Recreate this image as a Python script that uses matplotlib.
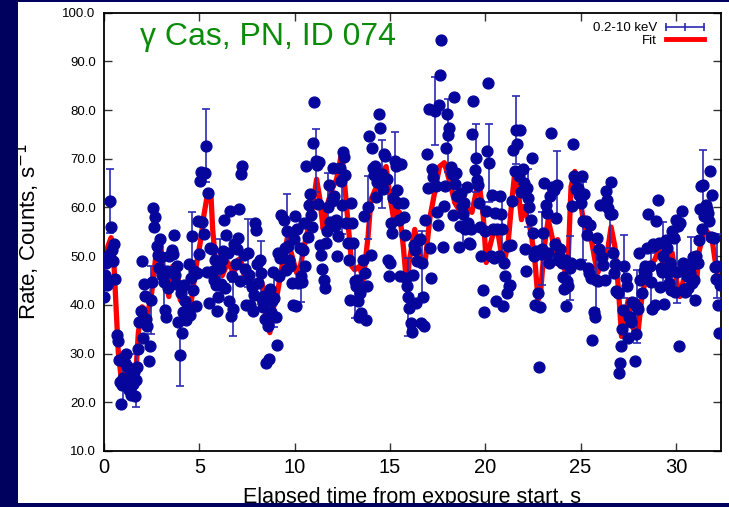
import numpy as np
import matplotlib.pyplot as plt
from matplotlib.lines import Line2D
from matplotlib.patches import Rectangle

plt.rcParams['font.family'] = ['Liberation Sans', 'DejaVu Sans']

# light curve, 0.06 s bins
t_bin = 0.06
rate = [
    41.7, 46.2, 48.5, 44.0, 50.3, 61.3, 56.0, 51.2, 49.0, 52.5, 45.3, 33.8, 32.5, 28.6, 24.2, 19.7, 23.6, 25.0, 28.0, 30.0,
    27.5, 24.0, 22.5, 25.5, 21.5, 23.8, 26.2, 21.2, 24.5, 27.3, 31.0, 36.5, 38.8, 49.0, 33.2, 44.2, 41.8, 37.0, 35.6, 28.4,
    31.5, 41.0, 44.7, 59.8, 55.9, 58.1, 52.0, 50.3, 47.6, 53.5, 49.8, 46.2, 44.6, 38.9, 37.6, 47.0, 43.5, 50.1, 46.8, 51.2,
    50.4, 54.4, 46.2, 44.2, 48.0, 36.4, 29.8, 42.5, 34.3, 38.6, 44.1, 40.7, 36.8, 39.2, 48.3, 37.9, 45.6, 54.1, 43.0, 46.9,
    39.7, 46.6, 57.2, 50.5, 65.4, 67.2, 57.0, 54.5, 67.1, 72.7, 46.7, 63.0, 40.4, 51.7, 51.4, 47.0, 45.1, 49.2, 44.0, 38.7,
    41.7, 47.6, 44.3, 49.3, 51.1, 57.5, 43.5, 54.3, 50.6, 40.7, 59.2, 37.7, 46.0, 39.2, 52.5, 48.3, 51.5, 53.7, 59.6, 44.8,
    66.8, 68.5, 50.2, 47.4, 40.0, 45.3, 50.7, 46.2, 40.0, 43.7, 38.8, 42.0, 56.8, 55.3, 48.4, 44.5, 49.3, 46.6, 41.2, 39.5,
    41.9, 37.0, 28.1, 35.6, 28.8, 43.3, 38.5, 40.7, 46.8, 41.4, 37.5, 31.8, 50.7, 45.9, 49.6, 58.5, 50.0, 57.5, 51.7, 47.2,
    55.2, 52.1, 49.3, 48.0, 44.4, 40.0, 53.5, 58.2, 39.7, 55.5, 44.5, 51.6, 46.0, 44.6, 51.2, 56.8, 48.0, 68.6, 53.9, 60.5,
    62.7, 58.5, 56.0, 73.3, 81.7, 69.6, 68.7, 60.8, 69.3, 52.2, 50.3, 47.3, 45.2, 43.5, 52.7, 55.1, 60.0, 64.7, 57.1, 61.4,
    68.2, 62.4, 56.2, 57.5, 50.0, 54.1, 68.2, 65.5, 60.5, 71.3, 70.3, 66.6, 56.9, 52.7, 49.3, 41.0, 61.0, 56.9, 52.8, 44.8,
    43.8, 45.2, 40.7, 37.5, 42.5, 38.3, 49.3, 58.2, 46.6, 36.8, 43.8, 60.0, 74.7, 50.3, 72.3, 68.2, 66.6, 68.6, 62.1, 65.3,
    79.1, 76.4, 66.5, 66.9, 63.7, 70.9, 70.6, 65.8, 49.3, 46.0, 48.6, 56.9, 54.8, 62.0, 69.5, 68.6, 63.6, 61.0, 57.5, 46.0,
    69.0, 61.0, 58.0, 54.4, 45.5, 43.8, 41.7, 39.4, 36.3, 34.5, 46.1, 52.2, 51.2, 40.4, 49.0, 53.4, 53.6, 36.3, 48.7, 41.7,
    35.6, 57.5, 70.9, 64.0, 80.2, 51.6, 45.5, 67.8, 66.3, 79.8, 64.5, 59.1, 56.4, 81.0, 87.2, 94.4, 51.8, 60.3, 64.5, 72.3,
    79.1, 74.8, 76.4, 68.4, 66.8, 58.5, 82.6, 64.9, 67.1, 62.3, 51.8, 56.2, 63.0, 60.3, 58.6, 61.0, 55.5, 64.2, 56.8, 52.7,
    52.5, 55.6, 75.0, 81.9, 67.7, 70.2, 65.7, 64.7, 61.0, 55.9, 50.0, 43.1, 38.5, 55.2, 59.2, 71.6, 85.6, 69.2, 50.0, 62.5,
    55.5, 49.6, 58.9, 40.7, 55.5, 50.0, 62.3, 58.6, 55.5, 39.7, 48.7, 46.0, 42.4, 52.0, 43.8, 44.1, 52.3, 61.3, 71.9, 67.5,
    75.9, 73.0, 67.2, 66.5, 75.9, 63.1, 67.9, 65.1, 51.4, 47.0, 64.1, 62.0, 60.0, 57.5, 70.1, 54.8, 50.0, 40.0, 51.0, 42.5,
    27.2, 39.5, 50.5, 51.5, 54.8, 65.1, 60.6, 58.8, 50.7, 48.7, 62.3, 75.2, 64.3, 63.6, 52.6, 57.8, 64.6, 49.3, 50.0, 51.4,
    48.7, 45.7, 43.3, 49.3, 39.7, 45.0, 43.8, 47.6, 48.7, 60.3, 73.0, 66.5, 66.1, 63.7, 64.0, 62.6, 48.3, 60.9, 66.5, 57.2,
    62.7, 57.2, 54.4, 47.6, 46.6, 56.5, 45.6, 32.8, 38.6, 37.6, 45.2, 53.8, 45.0, 51.4, 60.6, 49.8, 48.1, 60.6, 45.1, 63.3,
    61.6, 59.9, 58.6, 65.3, 58.6, 50.7, 46.6, 48.3, 42.8, 42.5, 26.1, 28.0, 31.5, 35.0, 38.9, 47.9, 45.5, 43.8, 33.2, 37.5,
    37.5, 36.5, 40.6, 40.3, 28.5, 34.1, 39.6, 39.2, 50.7, 45.2, 42.5, 45.5, 46.9, 48.0, 46.3, 51.7, 58.6, 48.0, 44.6, 39.2,
    52.4, 52.0, 39.9, 57.2, 61.6, 52.7, 43.7, 47.5, 46.8, 50.0, 40.2, 53.4, 51.7, 46.6, 44.5, 48.7, 43.0, 55.1, 53.7, 42.6,
    57.5, 46.8, 56.1, 31.5, 56.8, 59.2, 48.7, 43.3, 42.6, 47.2, 45.9, 43.5, 46.5, 47.9, 44.5, 49.8, 45.2, 41.1, 50.0, 48.7,
    53.4, 59.6, 64.4, 55.5, 64.7, 58.3, 60.6, 59.6, 58.9, 57.2, 67.5, 54.0, 62.6, 53.8, 47.8, 45.3, 48.0, 40.0, 34.3, 44.0,
]
time = np.arange(len(rate)) * t_bin

# bins whose error bars stick out of the markers
err_idx = [5, 17, 28, 41, 52, 66, 77, 89, 101, 113, 126, 137, 149, 160, 172, 185, 196, 208, 219, 231, 243, 254, 266,
           278, 289, 301, 314, 325, 337, 348, 360, 371, 383, 396, 407, 419, 430, 442, 455, 466, 478, 489, 501, 513, 524, 536]
err_size = [6.5, 5.0, 5.5, 7.0, 6.0, 6.5, 5.0, 7.5, 6.0, 5.5, 7.0, 6.5, 6.0, 7.5, 5.5, 6.5, 7.0, 6.0, 7.5, 6.5, 7.0, 6.0, 8.0,
            6.5, 7.0, 7.5, 6.0, 7.0, 8.0, 6.5, 7.0, 6.0, 7.5, 7.0, 6.5, 8.0, 6.0, 7.0, 6.5, 7.5, 6.0, 7.0, 6.5, 6.0, 7.0, 6.5]

# fit curve
fit_t = [0.0, 0.05, 0.2, 0.37, 0.5, 0.6, 0.75, 0.9, 1.05, 1.2, 1.4, 1.55, 1.7, 1.8, 2.0, 2.3, 2.5, 2.8, 2.95, 3.15,
         3.4, 3.6, 3.8, 4.0, 4.3, 4.5, 4.8, 5.1, 5.2, 5.45, 5.6, 5.7, 5.9, 6.2, 6.5, 6.8, 7.05, 7.2, 7.4, 7.65,
         8.0, 8.2, 8.4, 8.5, 8.7, 8.9, 9.1, 9.4, 9.65, 9.8, 10.1, 10.3, 10.5, 10.7, 10.95, 11.15, 11.3, 11.5, 11.6, 11.95,
         12.2, 12.47, 12.6, 12.8, 13.0, 13.15, 13.4, 13.6, 13.85, 14.0, 14.3, 14.55, 14.8, 15.0, 15.2, 15.3, 15.5, 15.7, 15.9, 16.0,
         16.3, 16.5, 16.7, 16.85, 17.1, 17.4, 17.6, 17.85, 18.15, 18.4, 18.7, 18.85, 19.1, 19.3, 19.55, 19.7, 19.9, 20.05, 20.2, 20.5,
         20.7, 20.95, 21.2, 21.4, 21.55, 21.7, 21.9, 22.0, 22.25, 22.4, 22.6, 22.77, 22.9, 23.1, 23.3, 23.5, 23.65, 23.8, 24.0, 24.2,
         24.35, 24.5, 24.7, 24.85, 25.0, 25.2, 25.5, 25.75, 25.9, 26.2, 26.4, 26.6, 26.8, 27.0, 27.15, 27.3, 27.5, 27.65, 27.85, 28.0,
         28.2, 28.4, 28.6, 28.9, 29.1, 29.25, 29.4, 29.6, 29.8, 30.05, 30.2, 30.4, 30.55, 30.8, 31.1, 31.2, 31.5, 31.7, 31.9, 32.05,
         32.2, 32.35]
fit_rate = [48.0, 49.3, 52.0, 53.8, 50.0, 42.0, 30.2, 25.0, 28.0, 25.0, 24.6, 23.0, 28.0, 34.3, 39.6, 38.4, 42.5, 52.8, 52.8, 46.6,
            41.7, 47.9, 48.5, 41.0, 39.6, 38.4, 47.2, 54.0, 57.5, 63.3, 63.3, 55.5, 46.6, 46.0, 48.7, 46.6, 49.3, 48.7, 45.2, 44.0,
            44.5, 45.8, 42.5, 37.0, 34.3, 39.6, 42.5, 49.3, 54.4, 51.0, 46.6, 48.0, 52.0, 55.5, 60.2, 65.8, 62.3, 55.5, 59.0, 63.7,
            65.8, 71.3, 65.8, 56.9, 47.9, 47.2, 47.9, 45.2, 54.0, 61.6, 64.3, 67.2, 68.4, 62.3, 57.5, 59.6, 59.0, 52.0, 43.1, 48.7,
            55.5, 51.4, 48.7, 49.0, 58.0, 64.3, 68.4, 69.2, 65.1, 61.0, 59.0, 62.3, 59.6, 59.0, 63.7, 64.3, 58.0, 48.7, 51.4, 56.0,
            54.0, 48.0, 52.8, 61.6, 67.2, 64.3, 57.5, 60.2, 57.5, 54.8, 49.3, 41.0, 42.5, 52.0, 57.5, 54.0, 50.7, 53.4, 50.7, 46.6,
            49.3, 64.3, 67.4, 64.3, 61.0, 56.0, 54.8, 49.3, 46.6, 49.3, 50.7, 56.0, 52.0, 42.5, 33.5, 37.0, 41.0, 36.3, 34.3, 34.0,
            41.0, 45.2, 47.9, 49.3, 51.4, 49.5, 47.2, 50.0, 50.7, 44.6, 41.7, 45.2, 46.6, 44.6, 45.2, 50.7, 55.5, 54.8, 53.4, 49.3,
            45.8, 44.0]

y_ticks = [10, 20, 30, 40, 50, 60, 70, 80, 90, 100]
x_ticks = [0, 5, 10, 15, 20, 25, 30]

pt_col = '#06069c'
bar_col = '#2a2ab4'

fig = plt.figure(figsize=(7.29, 5.07), dpi=100)
fig.patch.set_facecolor('#00005e')
fig.patches.append(Rectangle((18/729, 0), 1, 1, transform=fig.transFigure,
                             facecolor='white', edgecolor='none', zorder=-5))
# dark frame drawn over everything (clips the axis labels like the slide does)
fig.patches.append(Rectangle((0, 0), 18/729, 1, transform=fig.transFigure,
                             facecolor='#00005e', edgecolor='none', zorder=10))
fig.patches.append(Rectangle((0, 0), 1, 4/507, transform=fig.transFigure,
                             facecolor='#00005e', edgecolor='none', zorder=10))
fig.patches.append(Rectangle((0, 1 - 2/507), 1, 2/507, transform=fig.transFigure,
                             facecolor='#00005e', edgecolor='none', zorder=10))

ax = fig.add_axes([0.1427, 0.1105, 0.8459, 0.8645])

ax.plot(fit_t, fit_rate, color='red', lw=3.8, zorder=2, solid_joinstyle='round')
ax.errorbar(time[err_idx], np.array(rate)[err_idx], yerr=err_size, fmt='none',
            ecolor=bar_col, elinewidth=1.2, capsize=3, capthick=1.2, zorder=3)
ax.plot(time, rate, 'o', color=pt_col, ms=7.8, mec=pt_col, zorder=4)

ax.set_xlim(0, 32.35)
ax.set_ylim(10, 100)
ax.set_xticks(x_ticks)
ax.set_yticks(y_ticks)
ax.set_yticklabels(['%.1f' % v for v in y_ticks], fontsize=9.5)
ax.set_xticklabels([str(v) for v in x_ticks], fontsize=14.5)
ax.tick_params(direction='in', length=6, width=1, top=True, right=True, color='#333333')
ax.tick_params(axis='y', pad=6)
ax.tick_params(axis='x', pad=5)
for s in ax.spines.values():
    s.set_linewidth(1.3)

ax.set_xlabel('Elapsed time from exposure start, s', fontsize=15.5)
ax.xaxis.set_label_coords(0.5, -0.083)
ax.set_ylabel('Rate, Counts, s$^{-1}$', fontsize=16)
ax.yaxis.set_label_coords(-0.1, 0.5)

ax.text(0.058, 0.944, 'γ Cas, PN, ID 074', transform=ax.transAxes, color='#0a8c0a',
        fontsize=23, ha='left', va='center')

handles = [Line2D([], [], color=bar_col, lw=1.2, marker='|', ms=6, mew=1.2),
           Line2D([], [], color='red', lw=3.5)]
ax.legend(handles, ['0.2-10 keV', 'Fit'], loc='upper right', bbox_to_anchor=(0.995, 1.0),
          markerfirst=False, numpoints=3, frameon=False, fontsize=9.5,
          handlelength=3.5, handletextpad=0.4, labelspacing=0.05, borderpad=0.2)

fig.savefig('out.png', dpi=100, facecolor=fig.get_facecolor())
